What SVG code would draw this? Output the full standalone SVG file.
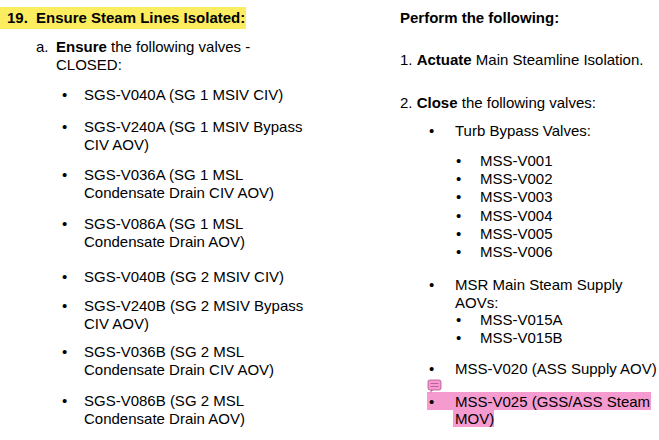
<svg xmlns="http://www.w3.org/2000/svg" width="659" height="440" viewBox="0 0 659 440">
<style>
text{font-family:"Liberation Sans",Arial,sans-serif;font-size:15px;fill:#000}
.b{font-weight:bold}
</style>
<rect width="659" height="440" fill="#fff"/>
<rect x="0" y="7" width="246" height="22" fill="#fbed5f"/>
<text x="7" y="23" class="b">19.</text>
<text x="36" y="23" class="b">Ensure Steam Lines Isolated:</text>
<text x="36" y="52">a.</text>
<text x="56" y="52"><tspan class="b">Ensure</tspan> the following valves -</text>
<text x="56" y="70">CLOSED:</text>
<g>
<text x="62" y="100">•</text><text x="84" y="100">SGS-V040A (SG 1 MSIV CIV)</text>
<text x="62" y="132">•</text><text x="84" y="132">SGS-V240A (SG 1 MSIV Bypass</text><text x="84" y="150">CIV AOV)</text>
<text x="62" y="180">•</text><text x="84" y="180">SGS-V036A (SG 1 MSL</text><text x="84" y="198">Condensate Drain CIV AOV)</text>
<text x="62" y="229">•</text><text x="84" y="229">SGS-V086A (SG 1 MSL</text><text x="84" y="247">Condensate Drain AOV)</text>
<text x="62" y="282">•</text><text x="84" y="282">SGS-V040B (SG 2 MSIV CIV)</text>
<text x="62" y="311">•</text><text x="84" y="311">SGS-V240B (SG 2 MSIV Bypass</text><text x="84" y="329">CIV AOV)</text>
<text x="62" y="357">•</text><text x="84" y="357">SGS-V036B (SG 2 MSL</text><text x="84" y="375">Condensate Drain CIV AOV)</text>
<text x="62" y="406">•</text><text x="84" y="406">SGS-V086B (SG 2 MSL</text><text x="84" y="424">Condensate Drain AOV)</text>
</g>
<text x="400" y="23" class="b">Perform the following:</text>
<text x="400" y="65">1. <tspan class="b">Actuate</tspan> Main Steamline Isolation.</text>
<text x="400" y="108">2. <tspan class="b">Close</tspan> the following valves:</text>
<text x="429" y="136">•</text><text x="455" y="136">Turb Bypass Valves:</text>
<g>
<text x="456" y="166">•</text><text x="480" y="166">MSS-V001</text>
<text x="456" y="184">•</text><text x="480" y="184">MSS-V002</text>
<text x="456" y="202">•</text><text x="480" y="202">MSS-V003</text>
<text x="456" y="221">•</text><text x="480" y="221">MSS-V004</text>
<text x="456" y="239">•</text><text x="480" y="239">MSS-V005</text>
<text x="456" y="257">•</text><text x="480" y="257">MSS-V006</text>
</g>
<text x="429" y="290">•</text><text x="455" y="290">MSR Main Steam Supply</text><text x="455" y="308">AOVs:</text>
<text x="456" y="325">•</text><text x="480" y="325">MSS-V015A</text>
<text x="456" y="343">•</text><text x="480" y="343">MSS-V015B</text>
<text x="429" y="374">•</text><text x="455" y="374">MSS-V020 (ASS Supply AOV)</text>
<rect x="427" y="392" width="224" height="18" fill="#f59bd0"/>
<rect x="453" y="410" width="41" height="17" fill="#f59bd0"/>
<g>
<rect x="428" y="380" width="13" height="10" rx="2" fill="#f59bd0" stroke="#b0508a" stroke-width="0.8"/>
<path d="M430 393 L431 390 L433 390 Z" fill="#b0508a"/>
<line x1="430.5" y1="383.5" x2="438.5" y2="383.5" stroke="#b0508a" stroke-width="0.8"/>
<line x1="430.5" y1="386.5" x2="438.5" y2="386.5" stroke="#b0508a" stroke-width="0.8"/>
</g>
<text x="429" y="407">•</text><text x="455" y="407">MSS-V025 (GSS/ASS Steam</text><text x="455" y="424">MOV)</text>
</svg>
